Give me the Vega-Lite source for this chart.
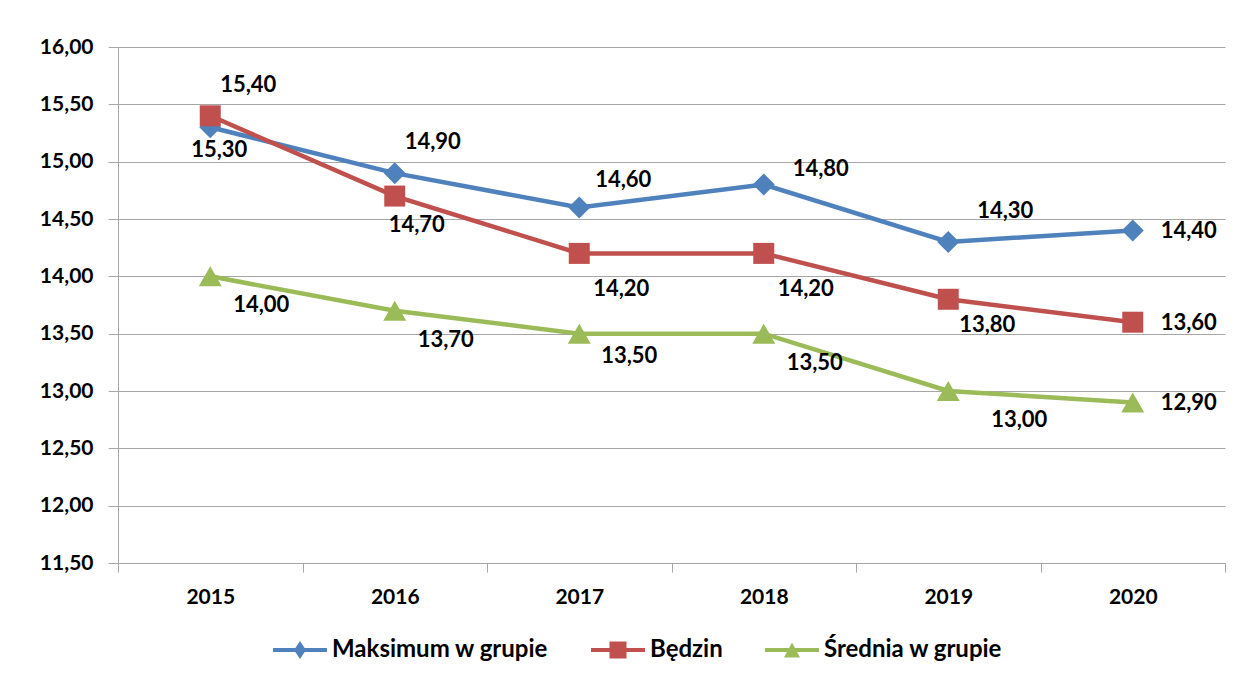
{
  "$schema": "https://vega.github.io/schema/vega-lite/v6.json",
  "autosize": {"type": "none"},
  "width": 1107,
  "height": 516,
  "padding": {"left": 118, "top": 47, "right": 25, "bottom": 125},
  "background": "#ffffff",
  "config": {
    "font": "Lato",
    "view": {"stroke": null},
    "locale": {"number": {"decimal": ",", "thousands": " ", "grouping": [3], "currency": ["", " zł"]}}
  },
  "data": {
    "values": [
      {"year": "2015", "series": "Maksimum w grupie", "value": 15.3},
      {"year": "2016", "series": "Maksimum w grupie", "value": 14.9},
      {"year": "2017", "series": "Maksimum w grupie", "value": 14.6},
      {"year": "2018", "series": "Maksimum w grupie", "value": 14.8},
      {"year": "2019", "series": "Maksimum w grupie", "value": 14.3},
      {"year": "2020", "series": "Maksimum w grupie", "value": 14.4},
      {"year": "2015", "series": "Będzin", "value": 15.4},
      {"year": "2016", "series": "Będzin", "value": 14.7},
      {"year": "2017", "series": "Będzin", "value": 14.2},
      {"year": "2018", "series": "Będzin", "value": 14.2},
      {"year": "2019", "series": "Będzin", "value": 13.8},
      {"year": "2020", "series": "Będzin", "value": 13.6},
      {"year": "2015", "series": "Średnia w grupie", "value": 14.0},
      {"year": "2016", "series": "Średnia w grupie", "value": 13.7},
      {"year": "2017", "series": "Średnia w grupie", "value": 13.5},
      {"year": "2018", "series": "Średnia w grupie", "value": 13.5},
      {"year": "2019", "series": "Średnia w grupie", "value": 13.0},
      {"year": "2020", "series": "Średnia w grupie", "value": 12.9}
    ]
  },
  "encoding": {
    "x": {
      "field": "year", "type": "ordinal",
      "scale": {"type": "band", "paddingInner": 0, "paddingOuter": 0},
      "axis": {
        "title": null, "labelAngle": 0, "grid": false,
        "tickBand": "extent", "tickSize": 9, "tickColor": "#a6a6a6", "tickWidth": 1,
        "domainColor": "#a6a6a6", "domainWidth": 1,
        "labelFont": "Lato", "labelFontSize": 21, "labelFontWeight": "bold", "labelColor": "#000000",
        "labelPadding": 14
      }
    },
    "y": {
      "field": "value", "type": "quantitative",
      "scale": {"domain": [11.5, 16], "nice": false, "zero": false},
      "axis": {
        "title": null, "values": [11.5, 12, 12.5, 13, 13.5, 14, 14.5, 15, 15.5, 16],
        "format": ".2f", "grid": true, "gridColor": "#a6a6a6", "gridWidth": 1,
        "tickSize": 10, "tickColor": "#a6a6a6", "domainColor": "#a6a6a6",
        "labelFont": "Lato", "labelFontSize": 21, "labelFontWeight": "bold", "labelColor": "#000000",
        "labelPadding": 15
      }
    }
  },
  "layer": [
    {
      "mark": {"type": "line", "strokeWidth": 4.5},
      "encoding": {
        "color": {
          "field": "series", "type": "nominal",
          "scale": {"domain": ["Maksimum w grupie", "Będzin", "Średnia w grupie"], "range": ["#4F81BD", "#C0504D", "#9BBB59"]},
          "legend": {
            "title": null, "orient": "none", "direction": "horizontal",
            "legendX": 155, "legendY": 576, "padding": 0,
            "symbolSize": 2916, "labelOffset": 5, "columnPadding": 42,
            "labelFont": "Lato", "labelFontSize": 24, "labelFontWeight": "bold", "labelColor": "#000000", "labelLimit": 400,
            "encoding": {
              "symbols": {
                "shape": {"value": {"expr": "datum.value === 'Maksimum w grupie' ? 'M-1,-0.074H1V0.074H-1Z M0,-0.333L0.222,0L0,0.333L-0.222,0Z' : datum.value === 'Będzin' ? 'M-1,-0.074H1V0.074H-1Z M-0.315,-0.315H0.315V0.315H-0.315Z' : 'M-1,-0.074H1V0.074H-1Z M0,-0.28L0.296,0.28H-0.296Z'"}},
                "fill": {"value": {"expr": "scale('color', datum.value)"}},
                "strokeWidth": {"value": 0},
                "opacity": {"value": 1}
              }
            }
          }
        }
      }
    },
    {
      "transform": [{"filter": "datum.series === 'Maksimum w grupie'"}],
      "mark": {"type": "point", "filled": true, "opacity": 1, "shape": "diamond", "size": 484, "color": "#4F81BD"}
    },
    {
      "transform": [{"filter": "datum.series === 'Będzin'"}],
      "mark": {"type": "point", "filled": true, "opacity": 1, "shape": "square", "size": 441, "color": "#C0504D"}
    },
    {
      "transform": [{"filter": "datum.series === 'Średnia w grupie'"}],
      "mark": {"type": "point", "filled": true, "opacity": 1, "shape": "triangle-up", "size": 529, "color": "#9BBB59"}
    },
    {
      "transform": [{"filter": "datum.year === '2020'"}],
      "mark": {"type": "text", "dx": 56, "dy": 1, "fontSize": 22, "fontWeight": "bold", "color": "#000000"},
      "encoding": {"text": {"field": "value", "type": "quantitative", "format": ".2f"}}
    },
    {
      "transform": [{"filter": "(datum.series === 'Będzin' && datum.year === '2015') || (datum.series === 'Maksimum w grupie' && datum.year === '2016')"}],
      "mark": {"type": "text", "dx": 38, "dy": -31, "fontSize": 22, "fontWeight": "bold", "color": "#000000"},
      "encoding": {"text": {"field": "value", "type": "quantitative", "format": ".2f"}}
    },
    {
      "transform": [{"filter": "datum.series === 'Maksimum w grupie' && datum.year === '2017'"}],
      "mark": {"type": "text", "dx": 44, "dy": -28, "fontSize": 22, "fontWeight": "bold", "color": "#000000"},
      "encoding": {"text": {"field": "value", "type": "quantitative", "format": ".2f"}}
    },
    {
      "transform": [{"filter": "datum.series === 'Maksimum w grupie' && datum.year === '2018'"}],
      "mark": {"type": "text", "dx": 57, "dy": -16, "fontSize": 22, "fontWeight": "bold", "color": "#000000"},
      "encoding": {"text": {"field": "value", "type": "quantitative", "format": ".2f"}}
    },
    {
      "transform": [{"filter": "datum.series === 'Maksimum w grupie' && datum.year === '2019'"}],
      "mark": {"type": "text", "dx": 57, "dy": -31, "fontSize": 22, "fontWeight": "bold", "color": "#000000"},
      "encoding": {"text": {"field": "value", "type": "quantitative", "format": ".2f"}}
    },
    {
      "transform": [{"filter": "datum.series === 'Maksimum w grupie' && datum.year === '2015'"}],
      "mark": {"type": "text", "dx": 9, "dy": 23, "fontSize": 22, "fontWeight": "bold", "color": "#000000"},
      "encoding": {"text": {"field": "value", "type": "quantitative", "format": ".2f"}}
    },
    {
      "transform": [{"filter": "datum.series === 'Będzin' && datum.year === '2016'"}],
      "mark": {"type": "text", "dx": 22, "dy": 29, "fontSize": 22, "fontWeight": "bold", "color": "#000000"},
      "encoding": {"text": {"field": "value", "type": "quantitative", "format": ".2f"}}
    },
    {
      "transform": [{"filter": "datum.series === 'Będzin' && (datum.year === '2017' || datum.year === '2018')"}],
      "mark": {"type": "text", "dx": 42, "dy": 36, "fontSize": 22, "fontWeight": "bold", "color": "#000000"},
      "encoding": {"text": {"field": "value", "type": "quantitative", "format": ".2f"}}
    },
    {
      "transform": [{"filter": "datum.series === 'Będzin' && datum.year === '2019'"}],
      "mark": {"type": "text", "dx": 39, "dy": 26, "fontSize": 22, "fontWeight": "bold", "color": "#000000"},
      "encoding": {"text": {"field": "value", "type": "quantitative", "format": ".2f"}}
    },
    {
      "transform": [{"filter": "datum.series === 'Średnia w grupie' && (datum.year === '2015' || datum.year === '2016' || datum.year === '2018')"}],
      "mark": {"type": "text", "dx": 51, "dy": 29, "fontSize": 22, "fontWeight": "bold", "color": "#000000"},
      "encoding": {"text": {"field": "value", "type": "quantitative", "format": ".2f"}}
    },
    {
      "transform": [{"filter": "datum.series === 'Średnia w grupie' && datum.year === '2017'"}],
      "mark": {"type": "text", "dx": 50, "dy": 22, "fontSize": 22, "fontWeight": "bold", "color": "#000000"},
      "encoding": {"text": {"field": "value", "type": "quantitative", "format": ".2f"}}
    },
    {
      "transform": [{"filter": "datum.series === 'Średnia w grupie' && datum.year === '2019'"}],
      "mark": {"type": "text", "dx": 71, "dy": 29, "fontSize": 22, "fontWeight": "bold", "color": "#000000"},
      "encoding": {"text": {"field": "value", "type": "quantitative", "format": ".2f"}}
    }
  ]
}
